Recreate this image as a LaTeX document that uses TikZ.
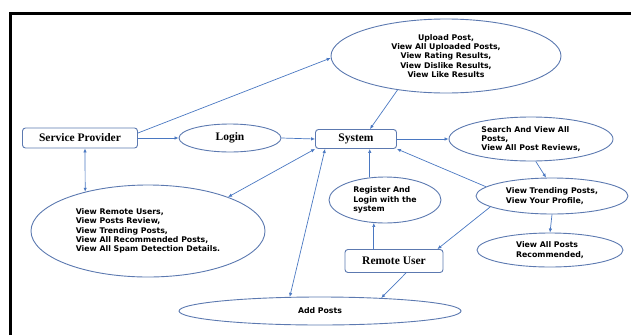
\documentclass[tikz,border=0pt]{standalone}
\usepackage{fontspec}
\setmainfont{Liberation Serif}
\newfontfamily\ovalsans{DejaVu Sans}
\usetikzlibrary{shapes.geometric, arrows.meta, calc}
\definecolor{arrowblue}{HTML}{4A78C2}
\definecolor{edgeblue}{HTML}{5C79B0}

\begin{document}
\begin{tikzpicture}[
  x=1pt, y=-1pt,
  actorbox/.style={rectangle, rounded corners=3pt, draw=edgeblue, line width=0.9pt, inner sep=0pt, font=\bfseries\fontsize{11.5}{13}\selectfont},
  usecase/.style={ellipse, draw=edgeblue, line width=0.9pt, inner sep=0pt, font=\ovalsans\bfseries\fontsize{7.8}{9.2}\selectfont},
  seriflabel/.style={font=\bfseries\fontsize{11.5}{13}\selectfont},
  arrow/.style={-{Latex[length=4pt,width=3.5pt]}, line width=0.7pt, color=arrowblue},
  twoway/.style={arrow, {Latex[length=4pt,width=3.5pt]}-{Latex[length=4pt,width=3.5pt]}}
]
  \useasboundingbox (0,0) rectangle (631,335);

  % Frame
  \draw[line width=3pt] (10,335) -- (10,13) -- (631,13);

  % Service provider side
  \node[actorbox, minimum width=115pt, minimum height=20pt] (provider) at (80,138) {Service Provider};
  \node[usecase, seriflabel, minimum width=102pt, minimum height=28pt] (login) at (230,138) {Login};
  \node[usecase, minimum width=234pt, minimum height=92pt, align=left] (spview) at (148,231) {View Remote Users,\\View Posts Review,\\View Trending Posts,\\View All Recommended Posts,\\View All Spam Detection Details.};

  % System and its services
  \node[actorbox, minimum width=81pt, minimum height=19pt] (system) at (356,139) {System};
  \node[usecase, minimum width=230pt, minimum height=74pt, align=center] (upload) at (446,56) {Upload Post,\\View All Uploaded Posts,\\View Rating Results,\\View Dislike Results,\\View Like Results};
  \node[usecase, minimum width=164pt, minimum height=44pt, align=left] (search) at (531,139) {Search And View All\\Posts,\\View All Post Reviews,};
  \node[usecase, minimum width=152pt, minimum height=36pt, align=left] (trending) at (552,196) {View Trending Posts,\\View Your Profile,};
  \node[usecase, minimum width=146pt, minimum height=34pt, align=left] (recommended) at (550,250) {View All Posts\\Recommended,};

  % Remote user side
  \node[usecase, minimum width=112pt, minimum height=46pt, align=left] (register) at (385,200) {Register And\\Login with the\\system};
  \node[actorbox, minimum width=98pt, minimum height=23pt] (remote) at (394,261) {Remote User};
  \node[usecase, minimum width=282pt, minimum height=28pt] (addposts) at (320,311) {Add Posts};

  % Arrows
  \draw[arrow] ([yshift=5pt]provider.east) -- (upload.181);
  \draw[arrow] (provider.east) -- (login.west);
  \draw[arrow] (login.east) -- (system.west);
  \draw[twoway] ([xshift=5pt]provider.south) -- (spview.148);
  \draw[twoway] (system.south west) -- (spview.23);
  \draw[twoway] ([xshift=10pt]system.south west) -- (addposts.155);
  \draw[arrow] (upload.215) -- ([xshift=14pt]system.north);
  \draw[arrow] (system.east) -- (search.west);
  \draw[arrow] (register.124) -- (register.124 |- system.south);
  \draw[arrow] (register.244 |- remote.north) -- (register.244);
  \draw[arrow] (trending.172) -- (system.south east);
  \draw[arrow] (search.282) -- (trending.108);
  \draw[arrow] (trending.190) -- ([xshift=-6pt]remote.north east);
  \draw[arrow] (trending.south) -- (recommended.north);
  \draw[arrow] ([xshift=12pt]remote.south) -- (addposts.12);
\end{tikzpicture}
\end{document}
